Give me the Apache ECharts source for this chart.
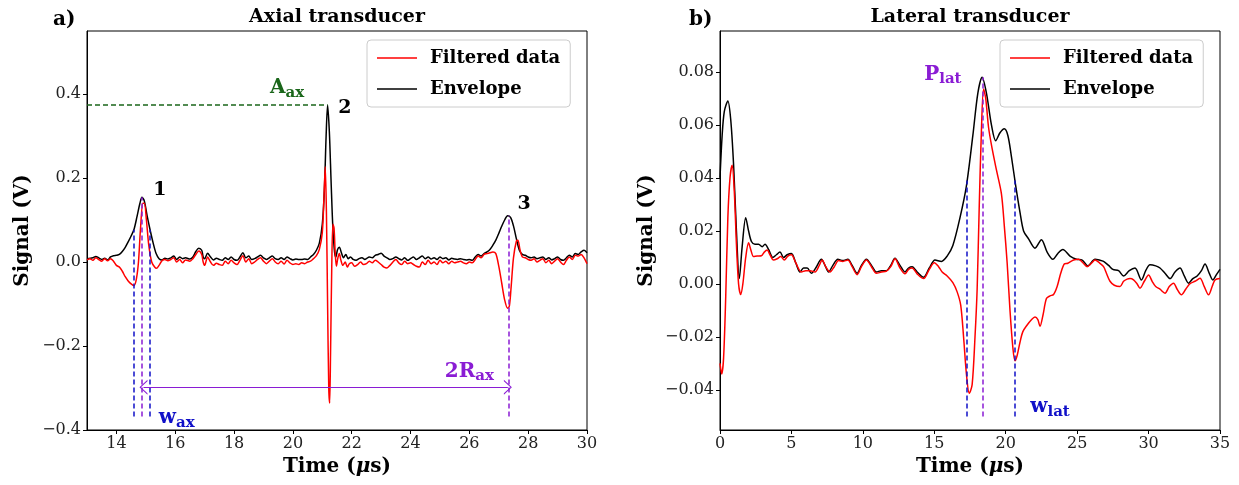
<!DOCTYPE html>
<html><head><meta charset="utf-8">
<script src="https://cdn.jsdelivr.net/npm/echarts@6/dist/echarts.min.js"></script>
<style>html,body{margin:0;padding:0;background:#fff}#c{width:1239px;height:485px}</style>
</head><body><div id="c"></div>
<script>
// ---------- DATA ----------
const axialEnvelope = [
[13.0,0.008],[13.2,0.010],[13.3,0.013],[13.4,0.010],[13.5,0.006],[13.6,0.009],[13.7,0.005],[13.8,0.012],[13.9,0.015],
[14.0,0.016],[14.1,0.018],[14.2,0.025],[14.3,0.035],[14.4,0.048],[14.5,0.062],[14.6,0.078],[14.7,0.108],[14.8,0.140],
[14.87,0.154],[14.95,0.145],[15.05,0.108],[15.15,0.075],[15.25,0.045],[15.35,0.020],[15.45,0.008],[15.55,0.005],
[15.65,0.009],[15.75,0.007],[15.85,0.010],[15.95,0.014],[16.05,0.006],[16.15,0.012],[16.25,0.008],[16.35,0.010],
[16.5,0.007],[16.6,0.012],[16.7,0.025],[16.8,0.033],[16.9,0.028],[16.95,0.012],[17.0,0.008],[17.1,0.021],[17.2,0.012],
[17.3,0.005],[17.4,0.009],[17.5,0.006],[17.6,0.004],[17.7,0.010],[17.8,0.006],[17.9,0.012],[18.0,0.006],[18.1,0.004],
[18.2,0.012],[18.3,0.022],[18.4,0.010],[18.5,0.014],[18.6,0.006],[18.7,0.008],[18.8,0.012],[18.9,0.016],[19.0,0.010],
[19.1,0.006],[19.2,0.010],[19.3,0.014],[19.4,0.008],[19.5,0.006],[19.6,0.010],[19.7,0.006],[19.8,0.012],[19.9,0.008],
[20.0,0.005],[20.1,0.007],[20.2,0.006],[20.3,0.006],[20.4,0.007],[20.5,0.006],[20.6,0.012],[20.7,0.018],[20.8,0.028],
[20.9,0.045],[21.0,0.090],[21.07,0.170],[21.13,0.300],[21.18,0.374],[21.24,0.310],[21.3,0.190],[21.36,0.080],
[21.42,0.022],[21.46,0.012],[21.52,0.030],[21.58,0.035],[21.65,0.022],[21.72,0.010],[21.8,0.018],[21.88,0.008],
[21.96,0.012],[22.05,0.006],[22.15,0.004],[22.25,0.008],[22.35,0.010],[22.45,0.006],[22.5,0.008],[22.6,0.012],
[22.7,0.010],[22.8,0.016],[22.9,0.018],[23.0,0.021],[23.1,0.014],[23.2,0.010],[23.3,0.006],[23.4,0.008],[23.5,0.012],
[23.6,0.008],[23.7,0.005],[23.8,0.010],[23.9,0.004],[24.0,0.008],[24.1,0.012],[24.2,0.006],[24.3,0.010],[24.4,0.014],
[24.5,0.008],[24.6,0.012],[24.7,0.007],[24.8,0.010],[24.9,0.006],[25.0,0.012],[25.1,0.008],[25.2,0.010],[25.3,0.005],
[25.4,0.009],[25.5,0.007],[25.6,0.006],[25.7,0.008],[25.8,0.006],[25.9,0.005],[26.0,0.006],[26.1,0.004],[26.2,0.012],
[26.3,0.018],[26.4,0.014],[26.5,0.020],[26.6,0.024],[26.7,0.030],[26.8,0.040],[26.9,0.052],[27.0,0.068],[27.1,0.085],
[27.2,0.100],[27.3,0.110],[27.4,0.106],[27.5,0.086],[27.6,0.055],[27.7,0.028],[27.8,0.018],[27.9,0.016],[28.0,0.012],
[28.1,0.010],[28.2,0.012],[28.3,0.008],[28.4,0.010],[28.5,0.012],[28.6,0.006],[28.7,0.010],[28.8,0.005],[28.9,0.008],
[29.0,0.012],[29.1,0.006],[29.2,0.004],[29.3,0.010],[29.4,0.016],[29.5,0.012],[29.6,0.020],[29.7,0.018],[29.8,0.024],
[29.9,0.028],[30.0,0.022]
];
const axialFiltered = [
[13.0,0.005],[13.1,0.008],[13.2,0.004],[13.3,0.010],[13.4,0.006],[13.5,0.002],[13.6,0.008],[13.7,0.003],[13.8,0.008],
[13.9,0.002],[14.0,-0.008],[14.1,-0.012],[14.2,-0.022],[14.3,-0.035],[14.4,-0.045],[14.5,-0.052],[14.6,-0.056],
[14.68,-0.040],[14.75,0.000],[14.82,0.080],[14.9,0.140],[14.95,0.140],[15.02,0.100],[15.1,0.040],[15.2,0.000],
[15.3,-0.012],[15.36,-0.015],[15.45,-0.008],[15.55,0.003],[15.65,0.006],[15.75,0.003],[15.85,0.006],[15.95,0.010],
[16.05,0.000],[16.15,0.006],[16.25,-0.002],[16.35,0.005],[16.5,0.002],[16.6,0.008],[16.7,0.018],[16.8,0.026],
[16.9,0.018],[16.95,0.000],[17.0,-0.008],[17.1,0.012],[17.2,0.000],[17.3,-0.008],[17.4,-0.003],[17.5,-0.006],
[17.6,-0.008],[17.7,0.002],[17.8,-0.004],[17.9,0.004],[18.0,-0.002],[18.1,-0.006],[18.2,0.004],[18.3,0.015],
[18.4,0.000],[18.5,0.008],[18.6,-0.004],[18.7,0.000],[18.8,0.006],[18.9,0.010],[19.0,0.002],[19.1,-0.004],
[19.2,0.002],[19.3,0.008],[19.4,0.000],[19.5,-0.004],[19.6,0.002],[19.7,-0.005],[19.8,0.004],[19.9,-0.002],
[20.0,-0.006],[20.1,-0.004],[20.2,-0.006],[20.3,-0.002],[20.4,-0.004],[20.5,0.000],[20.6,0.002],[20.7,0.008],
[20.8,0.015],[20.9,0.030],[21.0,0.070],[21.06,0.160],[21.1,0.227],[21.14,0.120],[21.18,-0.100],[21.22,-0.300],
[21.25,-0.336],[21.28,-0.220],[21.32,-0.020],[21.36,0.090],[21.4,0.080],[21.44,0.020],[21.48,-0.010],[21.53,0.010],
[21.58,0.020],[21.63,0.005],[21.7,-0.008],[21.78,0.000],[21.85,-0.012],[21.92,-0.004],[22.0,-0.002],[22.1,-0.010],
[22.2,-0.006],[22.3,0.000],[22.4,-0.006],[22.5,-0.004],[22.6,0.002],[22.7,-0.002],[22.8,0.004],[22.9,0.000],
[23.0,-0.006],[23.1,-0.012],[23.2,-0.014],[23.3,-0.008],[23.4,0.000],[23.5,0.006],[23.6,-0.002],[23.7,-0.006],
[23.8,0.002],[23.9,-0.004],[24.0,-0.002],[24.1,-0.006],[24.2,-0.010],[24.3,-0.012],[24.4,0.000],[24.5,-0.006],
[24.6,0.004],[24.7,-0.004],[24.8,0.000],[24.9,-0.006],[25.0,0.004],[25.1,-0.002],[25.2,0.002],[25.3,-0.004],
[25.4,0.002],[25.5,-0.002],[25.6,0.000],[25.7,0.002],[25.8,-0.002],[25.9,-0.004],[26.0,0.000],[26.1,-0.002],
[26.2,0.006],[26.3,0.014],[26.4,0.010],[26.5,0.018],[26.6,0.020],[26.7,0.022],[26.8,0.024],[26.9,0.020],
[27.0,-0.010],[27.1,-0.050],[27.2,-0.090],[27.3,-0.110],[27.36,-0.105],[27.42,-0.060],[27.5,0.010],[27.6,0.050],
[27.65,0.052],[27.72,0.030],[27.8,0.012],[27.9,0.010],[28.0,0.006],[28.1,0.004],[28.2,0.008],[28.3,0.000],
[28.4,0.004],[28.5,0.008],[28.6,-0.002],[28.7,0.004],[28.8,-0.004],[28.9,0.002],[29.0,0.008],[29.1,0.000],
[29.2,-0.006],[29.3,0.004],[29.4,0.012],[29.5,0.006],[29.6,0.016],[29.7,0.014],[29.8,0.018],[29.9,0.010],[30.0,-0.004]
];
const lateralEnvelope = [
[0.0,0.040],[0.15,0.056],[0.3,0.065],[0.55,0.069],[0.75,0.062],[0.95,0.045],[1.15,0.020],[1.35,0.002],[1.55,0.014],
[1.8,0.025],[2.0,0.020],[2.2,0.016],[2.45,0.015],[2.7,0.015],[2.95,0.014],[3.15,0.015],[3.4,0.013],[3.7,0.010],
[3.95,0.011],[4.2,0.012],[4.45,0.010],[4.7,0.011],[5.0,0.0115],[5.3,0.008],[5.6,0.0045],[5.85,0.006],[6.1,0.006],
[6.4,0.004],[6.7,0.006],[7.1,0.0093],[7.35,0.007],[7.6,0.0045],[7.9,0.007],[8.25,0.0093],[8.6,0.0088],[8.95,0.0093],
[9.25,0.007],[9.6,0.004],[9.9,0.007],[10.25,0.0093],[10.6,0.007],[10.95,0.0045],[11.3,0.005],[11.65,0.005],
[11.95,0.007],[12.25,0.0097],[12.6,0.007],[12.95,0.0045],[13.2,0.006],[13.45,0.0065],[13.8,0.0045],[14.25,0.0025],
[14.65,0.006],[15.05,0.009],[15.5,0.0085],[15.9,0.0105],[16.3,0.0145],[16.8,0.025],[17.25,0.037],[17.7,0.056],
[18.05,0.072],[18.35,0.078],[18.65,0.072],[19.0,0.060],[19.3,0.054],[19.6,0.057],[19.9,0.0585],[20.15,0.056],
[20.4,0.048],[20.7,0.037],[21.0,0.027],[21.25,0.020],[21.6,0.017],[22.05,0.0135],[22.5,0.0167],[22.9,0.012],
[23.3,0.0093],[23.65,0.0115],[24.0,0.013],[24.5,0.0105],[24.95,0.0093],[25.35,0.009],[25.75,0.0068],[26.25,0.0093],
[26.55,0.009],[26.85,0.0085],[27.2,0.007],[27.5,0.0055],[27.9,0.005],[28.25,0.003],[28.65,0.005],[29.05,0.006],
[29.5,0.0015],[29.8,0.005],[30.1,0.0072],[30.5,0.0068],[30.8,0.006],[31.15,0.004],[31.5,0.002],[31.85,0.0045],
[32.2,0.006],[32.5,0.003],[32.8,0.0003],[33.1,0.002],[33.4,0.003],[33.7,0.005],[33.95,0.0075],[34.25,0.004],
[34.5,0.0015],[34.75,0.0035],[35.0,0.0055]
];
const lateralFiltered = [
[0.0,-0.030],[0.12,-0.034],[0.25,-0.028],[0.4,-0.005],[0.55,0.025],[0.7,0.040],[0.85,0.0448],[1.0,0.035],[1.15,0.015],
[1.3,0.000],[1.45,-0.004],[1.6,0.000],[1.8,0.010],[2.0,0.0155],[2.15,0.013],[2.35,0.0103],[2.6,0.0105],[2.9,0.0106],
[3.1,0.012],[3.3,0.0128],[3.5,0.011],[3.75,0.009],[4.0,0.0095],[4.25,0.0103],[4.5,0.009],[4.75,0.0105],[5.0,0.011],
[5.3,0.008],[5.7,0.0045],[6.0,0.005],[6.3,0.005],[6.65,0.0045],[6.95,0.007],[7.15,0.009],[7.4,0.0065],[7.7,0.0045],
[8.0,0.0065],[8.3,0.0088],[8.6,0.0085],[8.95,0.009],[9.25,0.0065],[9.6,0.0035],[9.9,0.0065],[10.25,0.009],
[10.6,0.0065],[10.95,0.004],[11.3,0.0045],[11.65,0.0048],[11.95,0.0065],[12.25,0.0095],[12.6,0.006],[12.95,0.0038],
[13.2,0.0055],[13.45,0.006],[13.8,0.0038],[14.25,0.002],[14.65,0.0055],[15.0,0.008],[15.3,0.0065],[15.55,0.0045],
[15.9,0.003],[16.3,0.0005],[16.6,-0.003],[16.85,-0.008],[17.05,-0.020],[17.25,-0.034],[17.45,-0.0412],[17.65,-0.038],
[17.85,-0.020],[18.0,-0.002],[18.15,0.030],[18.3,0.058],[18.45,0.0735],[18.6,0.070],[18.8,0.059],[19.05,0.051],
[19.35,0.043],[19.7,0.034],[19.9,0.022],[20.1,0.008],[20.3,-0.010],[20.5,-0.024],[20.65,-0.029],[20.8,-0.027],
[21.0,-0.022],[21.2,-0.018],[21.5,-0.0155],[21.8,-0.0135],[22.05,-0.0125],[22.25,-0.0135],[22.4,-0.016],[22.6,-0.012],
[22.85,-0.0055],[23.1,-0.0045],[23.35,-0.004],[23.6,-0.001],[23.85,0.004],[24.1,0.0075],[24.35,0.0078],[24.75,0.009],
[25.1,0.0093],[25.4,0.008],[25.7,0.0065],[26.0,0.0078],[26.25,0.009],[26.55,0.008],[26.85,0.0065],[27.05,0.004],
[27.3,0.001],[27.6,-0.0005],[28.0,-0.001],[28.25,0.001],[28.5,0.0018],[28.7,0.002],[28.95,0.0015],[29.2,0.000],
[29.4,-0.0016],[29.7,0.001],[30.0,0.0034],[30.25,0.001],[30.5,-0.001],[30.8,-0.002],[31.15,-0.0035],[31.45,-0.001],
[31.75,0.0003],[32.0,-0.002],[32.3,-0.0041],[32.6,-0.002],[32.9,0.0001],[33.25,0.001],[33.6,0.0021],[33.9,-0.001],
[34.2,-0.0041],[34.45,-0.001],[34.65,0.0015],[35.0,0.002]
];
const axialXTicks = [14,16,18,20,22,24,26,28,30];
const axialYTicks = [-0.4,-0.2,0.0,0.2,0.4];
const lateralXTicks = [0,5,10,15,20,25,30,35];
const lateralYTicks = [-0.04,-0.02,0.00,0.02,0.04,0.06,0.08];
const seriesNames = ['Filtered data','Envelope'];

// measurement annotations (data coordinates)
const axialAmp = 0.375, axialPeak2T = 21.18;
const axialPeak1 = [14.87, 0.154], axialPeak3 = [27.33, 0.110];
const axialHalfWidth = [14.60, 15.15], axialHalf = 0.077;
const axialLineBottom = -0.368, axialArrowY = -0.298, axialArrowX = [14.92, 27.31];
const lateralPeak = [18.40, 0.078], lateralHalfWidth = [17.30, 20.60], lateralHalf = 0.039, lateralLineBottom = -0.050;
const axialTexts = [
  {t:15.48, v:0.171, txt:'{n|1}', c:'black'},
  {t:21.77, v:0.367, txt:'{n|2}', c:'black'},
  {t:27.86, v:0.138, txt:'{n|3}', c:'black'},
  {t:19.80, v:0.414, txt:'{m|A}{s|ax}', c:'green'},
  {t:26.00, v:-0.262, txt:'{m|2R}{s|ax}', c:'purple'},
  {t:16.05, v:-0.372, txt:'{m|w}{s|ax}', c:'blue'}
];
const lateralTexts = [
  {t:15.60, v:0.0788, txt:'{m|P}{s|lat}', c:'purple'},
  {t:23.10, v:-0.0465, txt:'{m|w}{s|lat}', c:'blue'}
];

// ---------- STYLE ----------
const FONT = 'DejaVu Serif';
const COL = {green:'#1a661a', purple:'#8a1cd4', blue:'#1010c8', red:'#ff0000', black:'#000000'};
const fmt = (v, d) => v.toFixed(d).replace('-', '\u2212');
function richFor(color) {
  return {
    n: {fontFamily: FONT, fontSize: 19, fontWeight: 'bold', color},
    m: {fontFamily: FONT, fontSize: 20, fontWeight: 'bold', color},
    s: {fontFamily: FONT, fontSize: 15, fontWeight: 'bold', color, padding: [9,0,0,0]}
  };
}
const chevron = 'path://M0,10L5,0L10,10L9,10L5,1.8L1,10Z';

function xAxis(idx, min, max, ticks) {
  return {
    type:'value', gridIndex: idx, min, max,
    name:'{b|Time (}{i|μ}{b|s)}', nameLocation:'middle', nameGap: 27,
    nameTextStyle: {rich: {
      b:{fontFamily:FONT, fontSize:20, fontWeight:'bold', color:'#000'},
      i:{fontFamily:FONT, fontSize:20, fontWeight:'bold', fontStyle:'italic', color:'#000'}}},
    axisLine: {show:true, onZero:false, lineStyle:{color:'#000', width:1}},
    axisTick: {show:true, length:4, customValues: ticks, lineStyle:{color:'#000'}},
    axisLabel: {customValues: ticks, fontFamily: FONT, fontSize: 16, color:'#222', margin: 6,
      formatter: v => String(v)},
    splitLine: {show:false}
  };
}
function yAxis(idx, min, max, ticks, dec, gap) {
  return {
    type:'value', gridIndex: idx, min, max,
    name:'Signal (V)', nameLocation:'middle', nameGap: gap, nameRotate: 90,
    nameTextStyle: {fontFamily: FONT, fontSize: 20, fontWeight:'bold', color:'#000'},
    axisLine: {show:true, onZero:false, lineStyle:{color:'#000', width:1}},
    axisTick: {show:true, length:4, customValues: ticks, lineStyle:{color:'#000'}},
    axisLabel: {customValues: ticks, fontFamily: FONT, fontSize: 16, color:'#222', margin: 6,
      formatter: v => fmt(v, dec)},
    splitLine: {show:false}
  };
}
function dashed(color, a, b) {
  return [{coord:a, lineStyle:{color, width:1.5, type:[5,3]}}, {coord:b}];
}
function textSeries(idx, items) {
  return {
    type:'scatter', xAxisIndex: idx, yAxisIndex: idx, symbolSize: 0, silent: true, z: 10,
    itemStyle: {opacity: 1},
    data: items.map(o => ({value:[o.t, o.v],
      label:{show:true, position:'inside', formatter:o.txt, color: COL[o.c], opacity: 1, rich: richFor(COL[o.c])}}))
  };
}

const option = {
  animation: false,
  backgroundColor: '#fff',
  grid: [
    {left: 87, top: 31, width: 500, height: 399, show: true, borderColor: '#000', borderWidth: 1, backgroundColor:'transparent'},
    {left: 720, top: 31, width: 500, height: 399, show: true, borderColor: '#000', borderWidth: 1, backgroundColor:'transparent'}
  ],
  xAxis: [xAxis(0, 13, 30, axialXTicks), xAxis(1, 0, 35, lateralXTicks)],
  yAxis: [yAxis(0, -0.4, 0.55, axialYTicks, 1, 54), yAxis(1, -0.0551, 0.0954, lateralYTicks, 2, 63)],
  legend: [0, 1].map(i => ({
    data: seriesNames, orient:'vertical', left: i === 0 ? 367 : 1000, top: 40,
    padding: [9, 10, 9, 10], itemGap: 13, itemWidth: 40, itemHeight: 1.5, icon: 'rect',
    borderColor:'#cccccc', borderWidth: 1, borderRadius: 4, backgroundColor:'rgba(255,255,255,0.8)',
    selectedMode: false,
    textStyle: {fontFamily: FONT, fontSize: 18, fontWeight:'bold', color:'#000', padding:[0,0,0,8]}
  })),
  graphic: [
    {type:'text', left: 53, top: 10, style:{text:'a)', font:'bold 20px "DejaVu Serif"', fill:'#000'}},
    {type:'text', left: 689, top: 10, style:{text:'b)', font:'bold 20px "DejaVu Serif"', fill:'#000'}},
    {type:'text', x: 337, y: 8, style:{text:'Axial transducer', font:'bold 19px "DejaVu Serif"', fill:'#000', align:'center'}},
    {type:'text', x: 970, y: 8, style:{text:'Lateral transducer', font:'bold 19px "DejaVu Serif"', fill:'#000', align:'center'}}
  ],
  series: [
    {name: seriesNames[0], type:'line', xAxisIndex:0, yAxisIndex:0, data: axialFiltered, symbol:'none', smooth: 0.3,
     lineStyle:{color: COL.red, width: 1.5}, itemStyle:{color: COL.red}, z: 3},
    {name: seriesNames[1], type:'line', xAxisIndex:0, yAxisIndex:0, data: axialEnvelope, symbol:'none', smooth: 0.3,
     lineStyle:{color: COL.black, width: 1.5}, itemStyle:{color: COL.black}, z: 2,
     markLine: {silent: true, symbol: 'none', label:{show:false}, animation:false,
       data: [
         dashed(COL.green, [13, axialAmp], [axialPeak2T, axialAmp]),
         dashed(COL.blue, [axialHalfWidth[0], axialLineBottom], [axialHalfWidth[0], axialHalf]),
         dashed(COL.blue, [axialHalfWidth[1], axialLineBottom], [axialHalfWidth[1], axialHalf]),
         dashed(COL.purple, [axialPeak1[0], axialLineBottom], axialPeak1),
         dashed(COL.purple, [axialPeak3[0], axialLineBottom], axialPeak3),
         [{coord:[axialArrowX[0], axialArrowY], symbol: chevron, symbolSize:[15,8], lineStyle:{color: COL.purple, width:1, type:'solid'}},
          {coord:[axialArrowX[1], axialArrowY], symbol: chevron, symbolSize:[15,8]}]
       ]}},
    textSeries(0, axialTexts),
    {name: seriesNames[0], type:'line', xAxisIndex:1, yAxisIndex:1, data: lateralFiltered, symbol:'none', smooth: 0.3,
     lineStyle:{color: COL.red, width: 1.5}, itemStyle:{color: COL.red}, z: 3},
    {name: seriesNames[1], type:'line', xAxisIndex:1, yAxisIndex:1, data: lateralEnvelope, symbol:'none', smooth: 0.3,
     lineStyle:{color: COL.black, width: 1.5}, itemStyle:{color: COL.black}, z: 2,
     markLine: {silent: true, symbol: 'none', label:{show:false}, animation:false,
       data: [
         dashed(COL.blue, [lateralHalfWidth[0], lateralLineBottom], [lateralHalfWidth[0], lateralHalf]),
         dashed(COL.blue, [lateralHalfWidth[1], lateralLineBottom], [lateralHalfWidth[1], lateralHalf]),
         dashed(COL.purple, [lateralPeak[0], lateralLineBottom], lateralPeak)
       ]}},
    textSeries(1, lateralTexts)
  ]
};
const chart = echarts.init(document.getElementById('c'), null, {renderer:'canvas'});
chart.setOption(option);
</script></body></html>
